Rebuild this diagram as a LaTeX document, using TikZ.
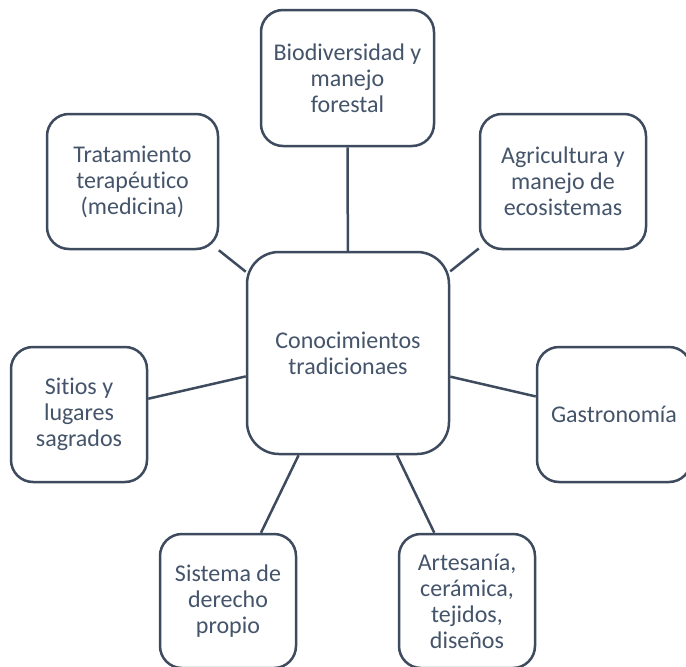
\documentclass[tikz,border=0pt]{standalone}
\usepackage{fontspec}
\setmainfont{Carlito}[RawFeature=-liga]
\definecolor{borde}{HTML}{3E4B5E}
\definecolor{texto}{HTML}{44546A}
\tikzset{
  caja/.style={draw=borde,line width=2.5pt,fill=white,rounded corners=22pt,
    inner sep=0pt,align=center,text=texto,
    font=\fontsize{24}{26}\selectfont},
  enlace/.style={draw=borde,line width=2.5pt}
}

\begin{document}
\begin{tikzpicture}[x=1pt,y=-1pt]
\useasboundingbox (0,0) rectangle (686,667);
\begin{scope}
\clip (0,0) rectangle (686,667);
% central node
\node[caja,rounded corners=32pt,minimum width=202pt,minimum height=202pt] (centro) at (348,353) {Conocimientos\\tradicionaes};
% surrounding nodes
\node[caja,minimum width=173pt,minimum height=136pt] (bio) at (347.5,78) {Biodiversidad y\\manejo\\forestal};
\node[caja,minimum width=171pt,minimum height=135pt] (trat) at (132.5,181.5) {Tratamiento\\terapéutico\\(medicina)};
\node[caja,minimum width=166pt,minimum height=135pt] (agri) at (563,181.5) {Agricultura y\\manejo de\\ecosistemas};
\node[caja,minimum width=136pt,minimum height=135pt] (sitios) at (79,414.5) {Sitios y\\lugares\\sagrados};
\node[caja,minimum width=154pt,minimum height=135pt] (gastro) at (614,414.5) {Gastronomía};
\node[caja,minimum width=136pt,minimum height=134pt] (derecho) at (228,601) {Sistema de\\derecho\\propio};
\node[caja,minimum width=136pt,minimum height=134pt] (arte) at (467,601) {Artesanía,\\cerámica,\\tejidos,\\diseños};
% connectors
\foreach \n in {bio,trat,agri,sitios,gastro,derecho,arte}
  \draw[enlace] (centro) -- (\n);
\end{scope}
\end{tikzpicture}
\end{document}
